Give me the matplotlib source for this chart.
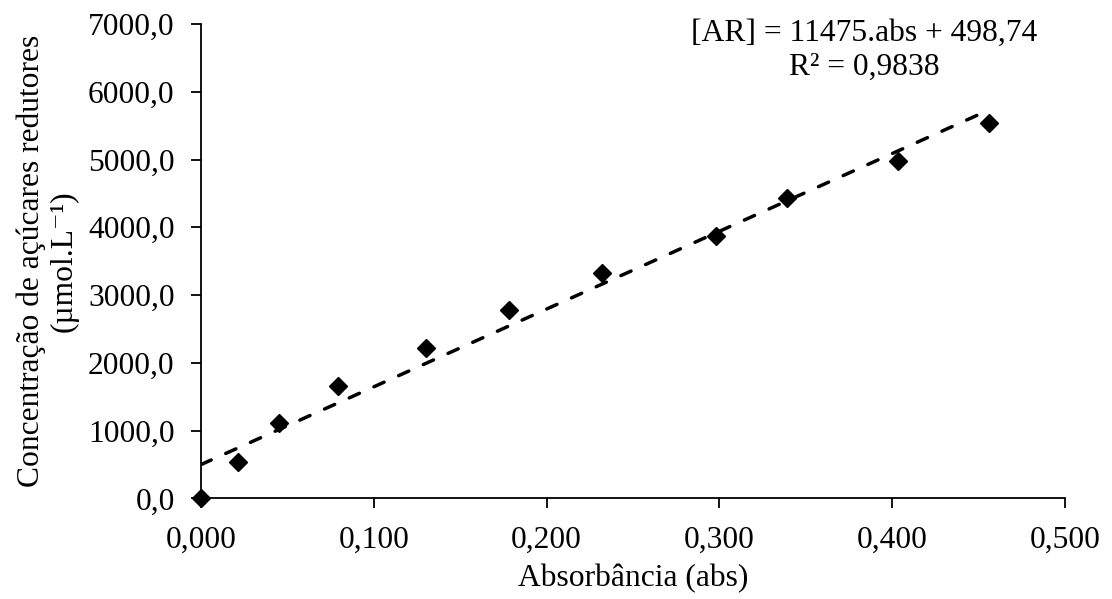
# Curva de calibração de açúcares redutores (DNS)
import numpy as np
import matplotlib.pyplot as plt
from matplotlib.ticker import FuncFormatter

absorbancia = [0.000, 0.0212, 0.0453, 0.0794, 0.1302, 0.178, 0.232, 0.2981, 0.339, 0.4035, 0.4557]
concentracao = [0.0, 541, 1108, 1658, 2214, 2779, 3320, 3875, 4431, 4981, 5532]
coef_angular = 11475
coef_linear = 498.74
r2_texto = 'R² = 0,9838'
eq_texto = '[AR] = 11475.abs + 498,74'

plt.rcParams['font.family'] = ['Liberation Serif', 'DejaVu Serif']

FS = 22.7


def virgula(fmt):
    return FuncFormatter(lambda v, pos: format(v, fmt).replace('.', ','))


def main():
    fig = plt.figure(figsize=(11.12, 5.99), dpi=100)
    ax = fig.add_axes([0.1808, 0.168, 0.777, 0.792])

    x_fit = np.array([0.0, max(absorbancia)])
    ax.plot(x_fit, coef_angular * x_fit + coef_linear,
            color='black', linewidth=2.5, linestyle=(0, (3.2, 4.6)),
            dash_capstyle='round', zorder=2)
    ax.plot(absorbancia, concentracao, linestyle='none', marker='D',
            markersize=9, color='black', clip_on=False, zorder=3)

    ax.set_xlim(0, 0.5)
    ax.set_ylim(0, 7000)
    ax.set_xticks(np.arange(0, 0.5001, 0.1))
    ax.set_yticks(np.arange(0, 7001, 1000))
    ax.xaxis.set_major_formatter(virgula('.3f'))
    ax.yaxis.set_major_formatter(virgula('.1f'))
    ax.tick_params(direction='out', length=7, width=1.3, labelsize=FS,
                   colors='black')
    ax.tick_params(axis='x', pad=13)
    ax.tick_params(axis='y', pad=12)

    for side in ['top', 'right']:
        ax.spines[side].set_visible(False)
    for side in ['left', 'bottom']:
        ax.spines[side].set_linewidth(1.3)

    ax.set_xlabel('Absorbância (abs)', fontsize=FS, labelpad=6)
    ax.set_ylabel('Concentração de açúcares redutores\n(µmol.L\u207b\u00b9)',
                  fontsize=FS, linespacing=1.15, labelpad=7)

    ax.text(0.768, 1.01, eq_texto + '\n' + r2_texto, transform=ax.transAxes,
            ha='center', va='top', fontsize=FS, linespacing=1.2)

    fig.savefig('out.png', dpi=100)


main()
